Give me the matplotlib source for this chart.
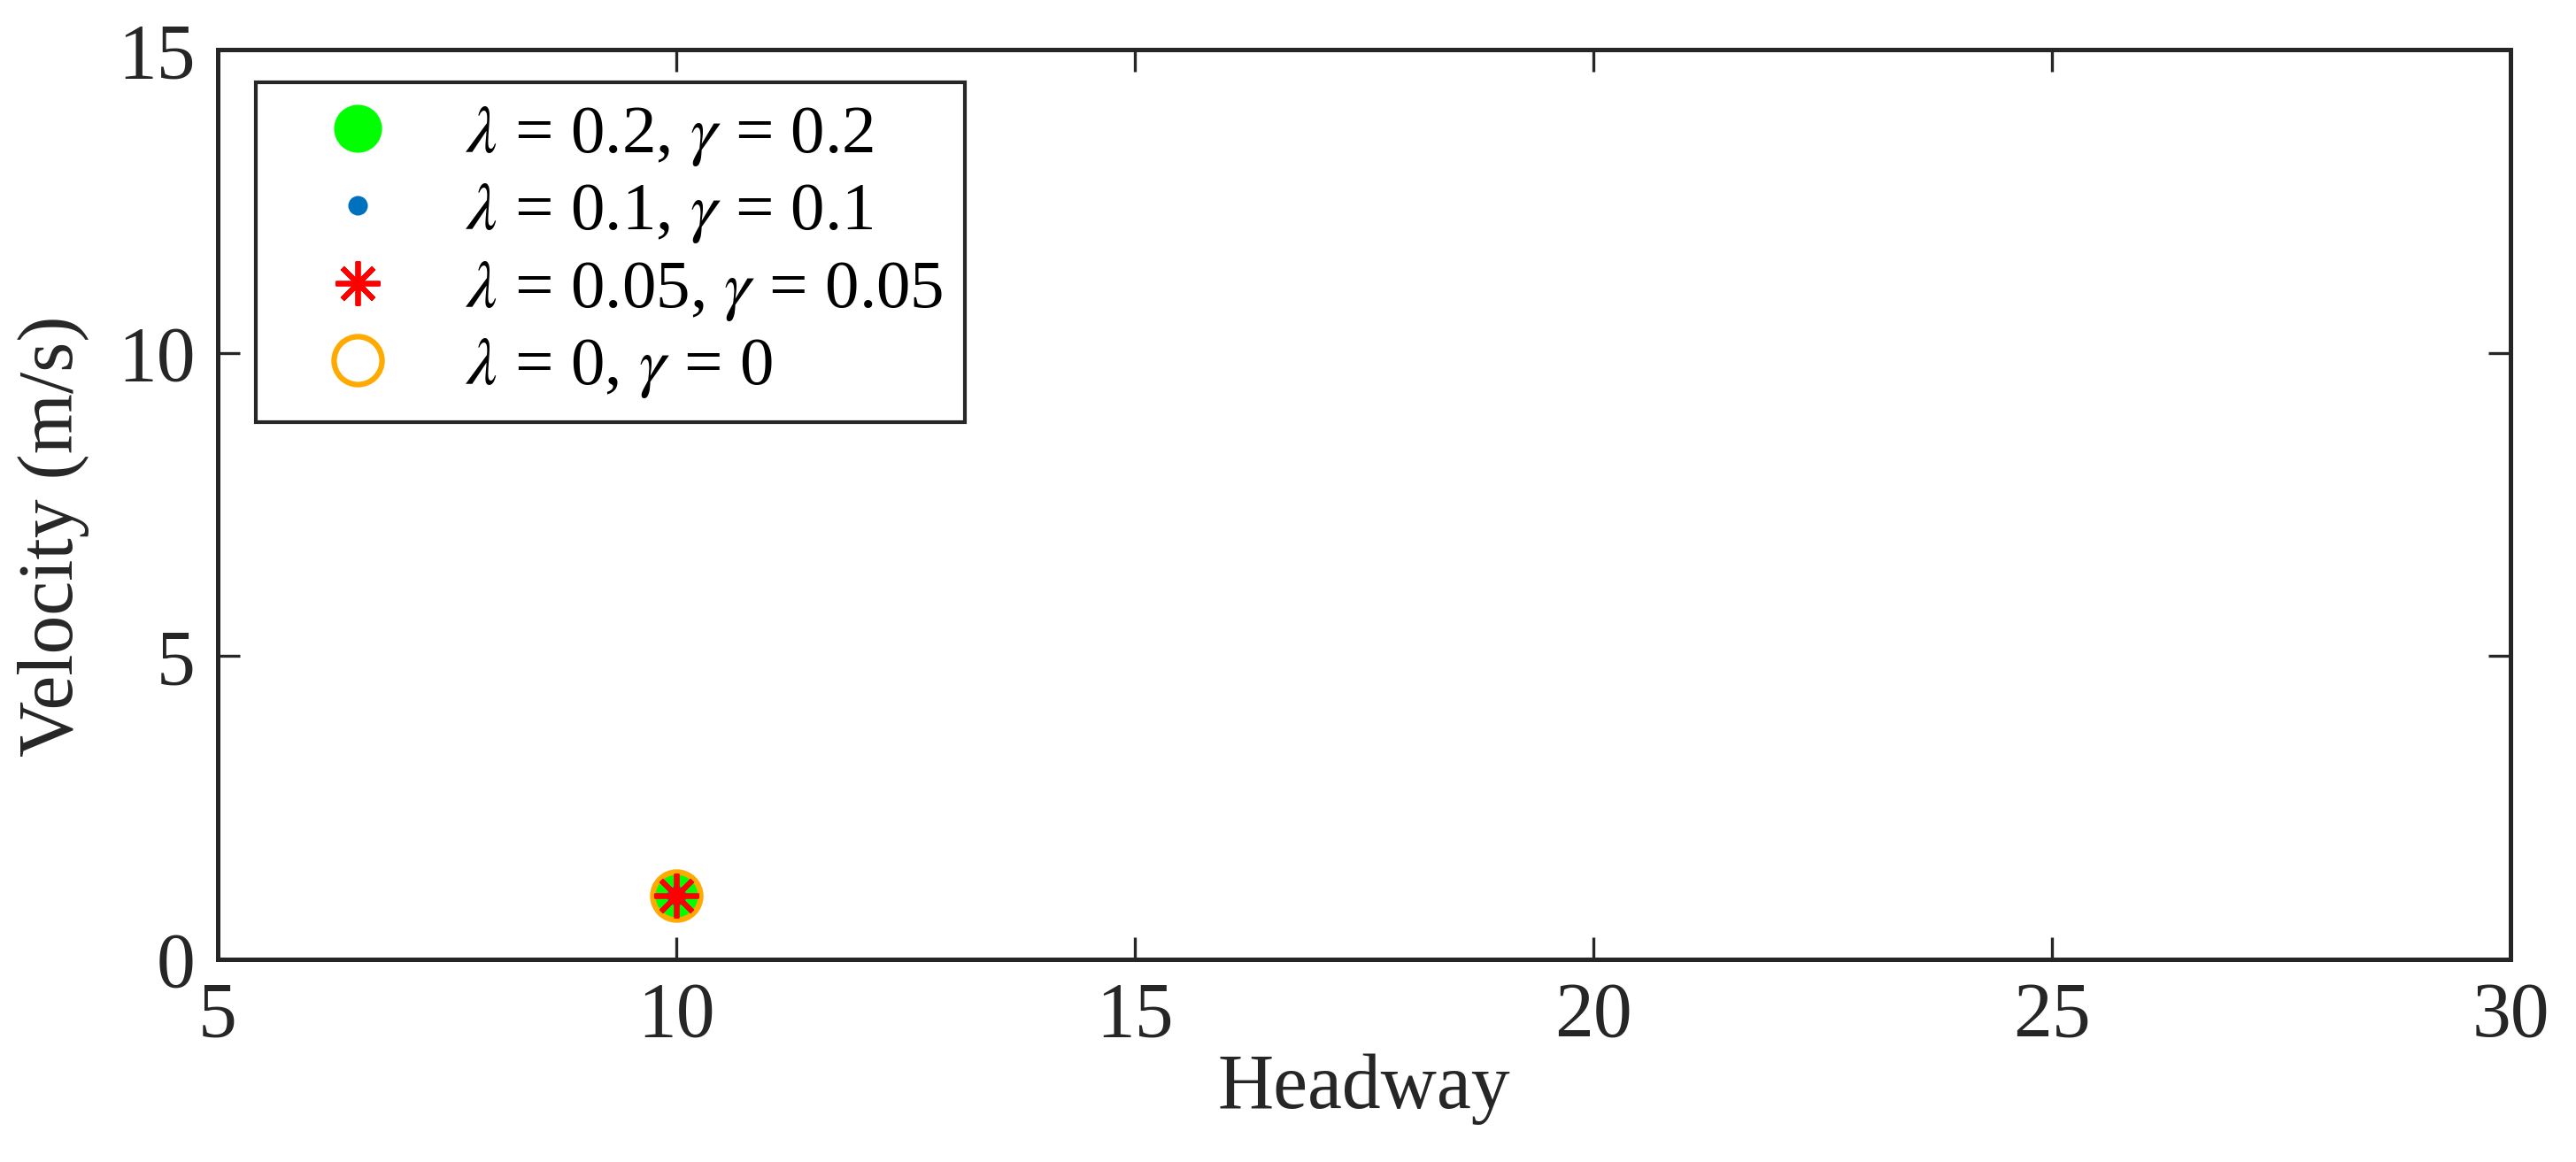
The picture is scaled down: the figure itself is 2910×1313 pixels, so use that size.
import matplotlib
matplotlib.use("Agg")
import matplotlib.pyplot as plt

# data: each case converges to the same equilibrium point
labels = [r"$\lambda$ = 0.2, $\gamma$ = 0.2",
          r"$\lambda$ = 0.1, $\gamma$ = 0.1",
          r"$\lambda$ = 0.05, $\gamma$ = 0.05",
          r"$\lambda$ = 0, $\gamma$ = 0"]
headway = [10, 10, 10, 10]
velocity = [1.05, 1.05, 1.05, 1.05]

plt.rcParams['font.family'] = ['Liberation Serif', 'DejaVu Serif']
plt.rcParams['mathtext.fontset'] = 'stix'

dark = '#262626'
fig = plt.figure(figsize=(9.7, 4.3767), dpi=300)
ax = fig.add_axes([0.0845, 0.1744, 0.8901, 0.7829])

styles = [
    dict(marker='o', ms=12, color='#00FF00', mfc='#00FF00', mec='#00FF00', ls='none'),
    dict(marker='o', ms=4.3, color='#0072BD', mfc='#0072BD', mec='#0072BD', ls='none'),
    dict(marker=(8, 2, 0), ms=12, color='#FF0000', mec='#FF0000', mew=1.4, ls='none'),
    dict(marker='o', ms=13, color='#FFAA00', mfc='none', mec='#FFAA00', mew=1.5, ls='none'),
]
order = [0, 1, 3, 2]  # draw star on top
handles = [None] * 4
for i in order:
    h, = ax.plot([headway[i]], [velocity[i]], label=labels[i], **styles[i])
    handles[i] = h

ax.set_xlim(5, 30)
ax.set_ylim(0, 15)
ax.set_xticks([5, 10, 15, 20, 25, 30])
ax.set_yticks([0, 5, 10, 15])
ax.tick_params(direction='in', length=6, width=0.8, colors=dark, labelsize=21,
               top=True, right=True, pad=6)
for s in ax.spines.values():
    s.set_linewidth(1.2)
    s.set_color(dark)

ax.set_xlabel('Headway', fontsize=21, color=dark, labelpad=0)
ax.set_ylabel('Velocity (m/s)', fontsize=21, color=dark)
ax.yaxis.set_label_coords(-0.056, 0.465)

leg = ax.legend(handles=handles, labels=labels, loc='upper left',
                bbox_to_anchor=(0.0166, 0.964), borderaxespad=0, fontsize=18.5,
                frameon=True, fancybox=False, handlelength=2.35, handletextpad=0.4,
                borderpad=0.32, labelspacing=0.2, numpoints=1)
leg.get_frame().set_edgecolor(dark)
leg.get_frame().set_linewidth(1.0)
leg.get_frame().set_alpha(1)

fig.savefig('out.png', dpi=300)
